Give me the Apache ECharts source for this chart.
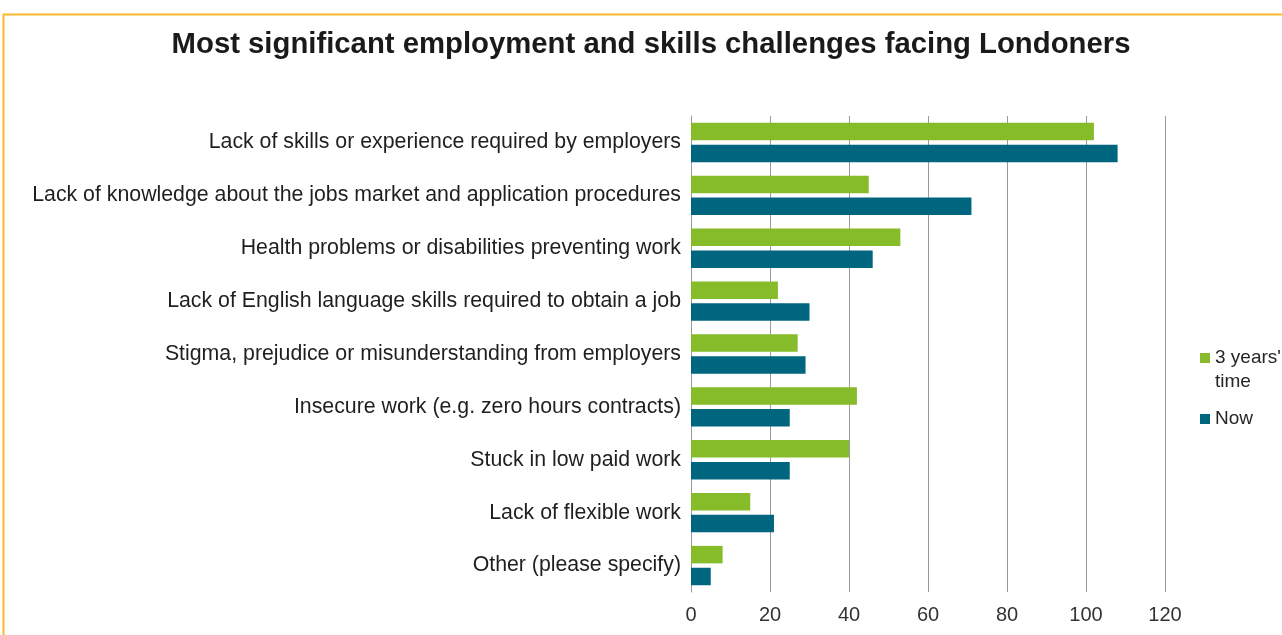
<!DOCTYPE html>
<html>
<head>
<meta charset="utf-8">
<title>Most significant employment and skills challenges facing Londoners</title>
<script src="https://cdn.jsdelivr.net/npm/echarts@6/dist/echarts.min.js"></script>
<style>
  html, body { margin: 0; padding: 0; background: #ffffff; }
  #chart { width: 1282px; height: 635px; }
</style>
</head>
<body>
<div id="chart"></div>
<script>
// Challenges, listed top to bottom
const categories = [
  'Lack of skills or experience required by employers',
  'Lack of knowledge about the jobs market and application procedures',
  'Health problems or disabilities preventing work',
  'Lack of English language skills required to obtain a job',
  'Stigma, prejudice or misunderstanding from employers',
  'Insecure work (e.g. zero hours contracts)',
  'Stuck in low paid work',
  'Lack of flexible work',
  'Other (please specify)'
];

// Number of responses for each challenge
const threeYears = [102, 45, 53, 22, 27, 42, 40, 15, 8];
const now = [108, 71, 46, 30, 29, 25, 25, 21, 5];

const seriesNames = ["3 years' time", 'Now'];
const xTicks = [0, 20, 40, 60, 80, 100, 120];

const GREEN = '#86BB2A';
const TEAL = '#00667F';
const FONT = '"Liberation Sans", Arial, sans-serif';
const LINE = 24;

const chart = echarts.init(document.getElementById('chart'), null, { renderer: 'canvas' });

const legendText = { fontFamily: FONT, fontSize: 19, color: '#262626', lineHeight: LINE };

const option = {
  backgroundColor: '#ffffff',
  animation: false,
  textStyle: { fontFamily: FONT },
  title: {
    text: 'Most significant employment and skills challenges facing Londoners',
    left: 646,
    textAlign: 'center',
    top: 25,
    textStyle: { fontFamily: FONT, fontSize: 29.3, fontWeight: 'bold', color: '#1a1a1a' }
  },
  legend: [
    {
      // wrapped label; a blank first line keeps "3 years'" level with the swatch
      orient: 'vertical',
      left: 1200,
      top: 322,
      padding: 0,
      itemWidth: 10,
      itemHeight: 10,
      icon: 'rect',
      data: [seriesNames[0]],
      formatter: function (name) { return '\u00a0\n' + name.replace(' time', '\ntime'); },
      textStyle: legendText
    },
    {
      orient: 'vertical',
      left: 1200,
      top: 407,
      padding: 0,
      itemWidth: 10,
      itemHeight: 10,
      icon: 'rect',
      data: [seriesNames[1]],
      textStyle: legendText
    }
  ],
  grid: { left: 691, right: 117, top: 116, bottom: 43, containLabel: false },
  xAxis: {
    type: 'value',
    min: xTicks[0],
    max: xTicks[xTicks.length - 1],
    interval: xTicks[1] - xTicks[0],
    axisLine: { show: false },
    axisTick: { show: false },
    splitLine: { show: true, lineStyle: { color: '#9a9a9a', width: 1 } },
    axisLabel: { fontFamily: FONT, fontSize: 20, color: '#333333', margin: 13 }
  },
  yAxis: {
    type: 'category',
    data: categories,
    inverse: true,
    axisLine: { show: true, lineStyle: { color: '#9a9a9a', width: 1 } },
    axisTick: { show: false },
    axisLabel: { fontFamily: FONT, fontSize: 21.3, color: '#1f1f1f', margin: 10, padding: [4, 0, 0, 0] }
  },
  series: [
    {
      name: seriesNames[0],
      type: 'bar',
      data: threeYears,
      barWidth: 17.5,
      barGap: '25%',
      itemStyle: { color: GREEN }
    },
    {
      name: seriesNames[1],
      type: 'bar',
      data: now,
      barWidth: 17.5,
      barGap: '25%',
      itemStyle: { color: TEAL }
    }
  ],
  graphic: [
    {
      type: 'line',
      silent: true,
      shape: { x1: 3, y1: 14.5, x2: 1282, y2: 14.5 },
      style: { stroke: '#FDB92C', lineWidth: 2 }
    },
    {
      type: 'line',
      silent: true,
      shape: { x1: 3.5, y1: 14, x2: 3.5, y2: 635 },
      style: { stroke: '#FDB92C', lineWidth: 2 }
    }
  ]
};

chart.setOption(option);
</script>
</body>
</html>
